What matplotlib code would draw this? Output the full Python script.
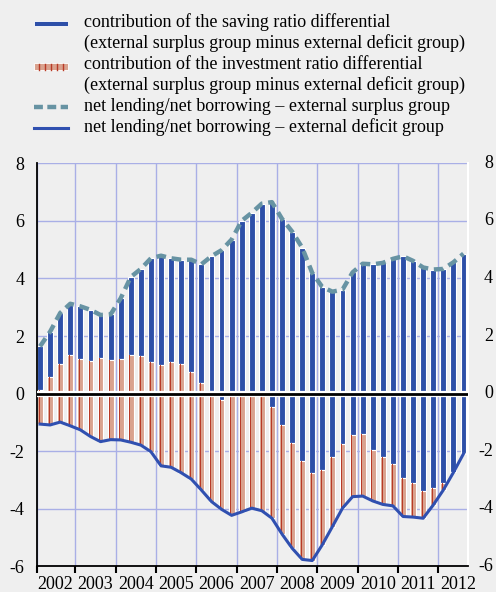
import matplotlib
matplotlib.use("Agg")
import matplotlib.pyplot as plt
from matplotlib.patches import Rectangle
from matplotlib.lines import Line2D
import numpy as np

plt.rcParams["font.family"] = ["Liberation Serif", "DejaVu Serif"]
plt.rcParams["axes.unicode_minus"] = False

# Quarterly data, 2002 Q1 - 2012 Q3 (% of GDP)
years = list(range(2002, 2013))
surplus = [1.64, 2.15, 2.80, 3.12, 3.03, 2.91, 2.73, 2.75, 3.31, 4.05, 4.33,
           4.70, 4.79, 4.70, 4.65, 4.65, 4.49, 4.77, 4.98, 5.35, 6.00, 6.28,
           6.60, 6.65, 6.07, 5.63, 5.07, 4.19, 3.70, 3.54, 3.61, 4.21, 4.51,
           4.49, 4.54, 4.68, 4.77, 4.61, 4.38, 4.31, 4.33, 4.56, 4.86]
deficit = [-1.06, -1.09, -0.99, -1.12, -1.26, -1.49, -1.67, -1.60, -1.61,
           -1.69, -1.79, -2.02, -2.51, -2.56, -2.75, -2.97, -3.35, -3.75,
           -4.02, -4.23, -4.11, -3.98, -4.07, -4.33, -4.88, -5.37, -5.76,
           -5.80, -5.25, -4.62, -3.98, -3.58, -3.56, -3.73, -3.85, -3.90,
           -4.27, -4.29, -4.33, -3.87, -3.35, -2.74, -2.09]
# investment-ratio contribution shown above the zero line
invest_pos = [0.13, 0.57, 1.04, 1.34, 1.20, 1.13, 1.22, 1.18, 1.20, 1.34,
              1.29, 1.08, 0.99, 1.08, 1.04, 0.76, 0.36, 0.08, 0, 0, 0, 0, 0,
              0, 0, 0, 0, 0, 0, 0, 0, 0, 0, 0, 0, 0, 0, 0, 0, 0, 0, 0, 0]
# saving-ratio contribution shown below the zero line
saving_neg = [0, 0, 0, 0, 0, 0, 0, 0, 0, 0, 0, 0, 0, 0, 0, 0, 0, 0, -0.22,
              0, 0, 0, 0, -0.45, -1.09, -1.72, -2.33, -2.77, -2.65, -2.19,
              -1.75, -1.43, -1.40, -1.96, -2.22, -2.44, -2.94, -3.09, -3.40,
              -3.29, -3.11, -2.71, -2.07]
y_ticks = [-6, -4, -2, 0, 2, 4, 6, 8]

BG = "#efefef"
BLUE = "#2d4fa8"
SALMON = "#d9a28e"
DARKRED = "#b83a26"
TEAL = "#6793a3"
LINEBLUE = "#3050b0"
GRID = "#a9afe6"

x = np.arange(len(surplus))
surplus_a = np.array(surplus)
deficit_a = np.array(deficit)
inv_a = np.array(invest_pos)
sav_a = np.array(saving_neg)

fig = plt.figure(figsize=(4.96, 5.92), dpi=100, facecolor=BG)
ax = fig.add_axes([0.074, 0.0434, 0.869, 0.6808], facecolor=BG)
ax.set_xlim(-0.33, 42.42)
ax.set_ylim(-6, 8)

W = 0.58
# saving contribution (blue)
ax.bar(x, surplus_a - inv_a, bottom=inv_a, width=W, color=BLUE,
       edgecolor="white", linewidth=0.8, zorder=2)
ax.bar(x, sav_a, bottom=0, width=W, color=BLUE,
       edgecolor="white", linewidth=0.8, zorder=2)
# investment contribution (salmon with dark stripe)
red_bottom_h = deficit_a - sav_a
for h, b in ((inv_a, np.zeros_like(inv_a)), (red_bottom_h, sav_a)):
    m = np.abs(h) > 1e-9
    ax.bar(x[m], h[m], bottom=b[m], width=W, color=SALMON,
           edgecolor="white", linewidth=0.8, zorder=2)
    ax.bar(x[m] - 0.08, h[m], bottom=b[m], width=0.1, color=DARKRED,
           linewidth=0, zorder=2.1)

# zero line
ax.axhline(0, color="white", lw=4.5, zorder=3)
ax.axhline(0, color="black", lw=2, zorder=3.1)

# net lending lines
ax.plot(x, surplus_a, color=TEAL, lw=3.2, ls=(0, (2.2, 1.3)),
        dash_capstyle="butt", zorder=4)
ax.plot(x, deficit_a, color=LINEBLUE, lw=2.2, zorder=4)

# grid and axes
bounds = [-0.33] + [4 * k + 3.5 for k in range(10)]
ax.set_xticks(bounds)
ax.set_xticklabels([])
ax.set_yticks(y_ticks)
ax.set_axisbelow(True)
ax.grid(True, color=GRID, lw=1)
ax.tick_params(axis="x", direction="out", length=5, width=1.5, color="black")
ax.tick_params(axis="y", length=0, pad=9, labelsize=13)
ax.spines["top"].set_visible(False)
ax.spines["right"].set_color("white")
ax.spines["right"].set_linewidth(1.5)
ax.spines["left"].set_color("black")
ax.spines["left"].set_linewidth(1.3)
ax.spines["bottom"].set_color("black")
ax.spines["bottom"].set_linewidth(1.3)

# right-hand tick labels, right-aligned near the figure edge
ytr = ax.get_yaxis_transform()
for v in y_ticks:
    ax.text(1.0587, v, str(v), transform=ytr, ha="right", va="center",
            fontsize=13, clip_on=False)

# year labels
for k, yr in enumerate(years):
    ax.text(4 * k + 1.5, -0.045, str(yr), transform=ax.get_xaxis_transform(),
            ha="center", va="center", fontsize=13)

# legend, drawn in figure pixel coordinates
FW, FH = 496, 592


def fx(px):
    return px / FW


def fy(py):
    return 1 - py / FH


tf = fig.transFigure
fig.add_artist(Rectangle((fx(34), fy(26)), fx(68) - fx(34), fy(21) - fy(26),
                         transform=tf, facecolor=BLUE, edgecolor="white", lw=0.6))
fig.add_artist(Rectangle((fx(34), fy(70)), fx(68) - fx(34), fy(63) - fy(70),
                         transform=tf, facecolor=SALMON, edgecolor="white", lw=0.6))
for sx in (38.5, 44.5, 50.5, 56.5, 62.5):
    fig.add_artist(Line2D([fx(sx), fx(sx)], [fy(69.5), fy(63.5)], transform=tf,
                          color=DARKRED, lw=1.0))
fig.add_artist(Line2D([fx(34), fx(68)], [fy(107.3), fy(107.3)], transform=tf,
                      color=TEAL, lw=3.2, ls=(0, (2.0, 1.0)), dash_capstyle="butt"))
fig.add_artist(Line2D([fx(34), fx(68)], [fy(127.7), fy(127.7)], transform=tf,
                      color=LINEBLUE, lw=2.2))

legend_lines = [
    "contribution of the saving ratio differential",
    "(external surplus group minus external deficit group)",
    "contribution of the investment ratio differential",
    "(external surplus group minus external deficit group)",
    "net lending/net borrowing \u2013 external surplus group",
    "net lending/net borrowing \u2013 external deficit group",
]
for j, txt in enumerate(legend_lines):
    fig.text(fx(83.5), fy(22 + 21.1 * j), txt, ha="left", va="center",
             fontsize=13)

fig.savefig("out.png", dpi=100, facecolor=BG)
